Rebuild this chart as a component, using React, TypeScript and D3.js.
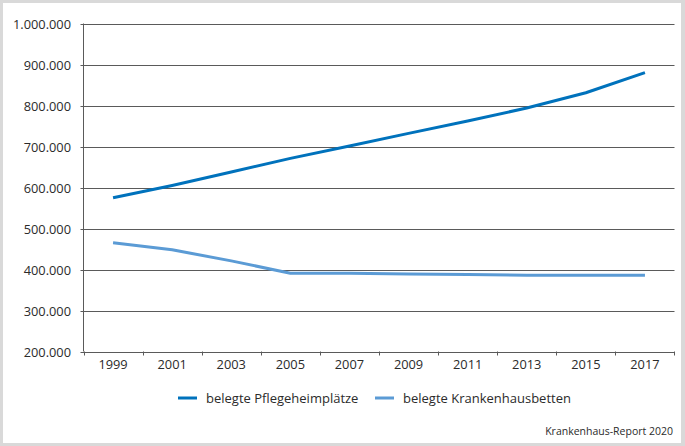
import React from "react";
import * as d3 from "d3";

const years = ["1999", "2001", "2003", "2005", "2007", "2009", "2011", "2013", "2015", "2017"];
const pflegeheim = [575000, 605000, 638000, 671000, 701000, 732000, 762000, 794000, 831000, 880000];
const krankenhaus = [465000, 448000, 421000, 391000, 391000, 389000, 388000, 386000, 386000, 386000];
const yTicks = [200000, 300000, 400000, 500000, 600000, 700000, 800000, 900000, 1000000];
const seriesNames = ["belegte Pflegeheimplätze", "belegte Krankenhausbetten"];
const seriesColors = ["#0072bc", "#5b9bd5"];
const source = "Krankenhaus-Report 2020";

const W = 685;
const H = 446;
const left = 83.5;
const right = 674.5;
const top = 23.5;
const bottom = 351.5;
const font = "'Open Sans', sans-serif";

const fmt = (v: number) => d3.format(",")(v).replace(/,/g, ".");

export default function App() {
  const x = d3.scaleBand<string>().domain(years).range([left, right]);
  const y = d3.scaleLinear().domain([200000, 1000000]).range([bottom, top]);
  const line = d3
    .line<number>()
    .x((_, i) => (x(years[i]) as number) + x.bandwidth() / 2)
    .y((d) => y(d));
  const series = [pflegeheim, krankenhaus];
  const legendX = [178, 375];

  return (
    <svg
      width={W}
      height={H}
      style={{ position: "absolute", left: 0, top: 0, display: "block" }}
    >
      <rect x={0} y={0} width={W} height={H} fill="#d9d9d9" />
      <rect x={3} y={3} width={678} height={440} fill="#ffffff" />
      {yTicks.map((t) => (
        <g key={t}>
          <line x1={left - 3} x2={right} y1={Math.round(y(t)) + 0.5} y2={Math.round(y(t)) + 0.5} stroke="#5a5a5a" strokeWidth={1} />
          <text
            x={71}
            y={Math.round(y(t)) + 0.5}
            dy="0.35em"
            textAnchor="end"
            fontFamily={font}
            fontSize={12.8}
            fill="#2b2b2b"
          >
            {fmt(t)}
          </text>
        </g>
      ))}
      <line x1={left} x2={left} y1={top} y2={bottom} stroke="#5a5a5a" strokeWidth={1} />
      {years.map((yr) => (
        <line
          key={"t" + yr}
          x1={Math.round(x(yr) as number) + 0.5}
          x2={Math.round(x(yr) as number) + 0.5}
          y1={bottom}
          y2={bottom + 4}
          stroke="#5a5a5a"
        />
      ))}
      <line x1={right} x2={right} y1={bottom} y2={bottom + 4} stroke="#5a5a5a" />
      {years.map((yr) => (
        <text
          key={yr}
          x={(x(yr) as number) + x.bandwidth() / 2}
          y={368.5}
          textAnchor="middle"
          fontFamily={font}
          fontSize={12.8}
          fill="#2b2b2b"
        >
          {yr}
        </text>
      ))}
      {series.map((s, i) => (
        <path
          key={i}
          d={line(s) as string}
          fill="none"
          stroke={seriesColors[i]}
          strokeWidth={3}
          strokeLinejoin="round"
        />
      ))}
      {seriesNames.map((n, i) => (
        <g key={n}>
          <line x1={legendX[i]} x2={legendX[i] + 19} y1={398} y2={398} stroke={seriesColors[i]} strokeWidth={3} />
          <text x={legendX[i] + 28} y={402.5} fontFamily={font} fontSize={13} fill="#2b2b2b">
            {n}
          </text>
        </g>
      ))}
      <text x={673} y={435} textAnchor="end" fontFamily={font} fontSize={10.5} fill="#2b2b2b">
        {source}
      </text>
    </svg>
  );
}
